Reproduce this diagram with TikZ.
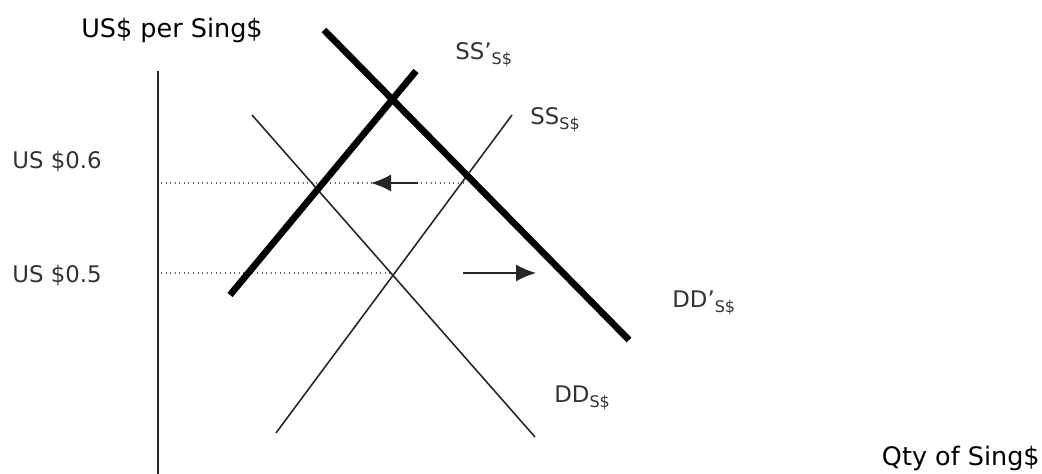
\documentclass[tikz,border=0pt]{standalone}
\usepackage{fontspec}
\setmainfont{DejaVu Sans}
\usetikzlibrary{arrows.meta}

\begin{document}
\begin{tikzpicture}[axislbl/.style={font=\fontsize{14.5}{17}\selectfont,inner sep=0pt},
  ticklbl/.style={font=\fontsize{13}{15}\selectfont,anchor=west,inner sep=0pt,text=black!80},
  curvelbl/.style={font=\fontsize{13}{15}\selectfont,anchor=west,inner sep=0pt,text=black!80},
  thinline/.style={black!85,line width=.9pt},
  thickline/.style={black,line width=3.8pt},
  guide/.style={black!60,dotted,line width=.6pt},
  shiftarrow/.style={black!85,line width=1pt,-{Latex[length=4mm,width=3.4mm]}}]
\useasboundingbox (0,0) rectangle (20.84,9.48);
\coordinate (axtop) at (3.16,8.06);
\coordinate (axbot) at (3.16,0);
\draw[black!85,line width=1pt] (axbot) -- (axtop);
\node[axislbl] (ytitle) at (3.44,8.88) {US\$ per Sing\$};
\node[axislbl,anchor=east] (xtitle) at (20.8,.32) {Qty of Sing\$};
\node[ticklbl] (p6) at (.24,6.24) {US \$0.6};
\node[ticklbl] (p5) at (.24,3.96) {US \$0.5};
\coordinate (g6a) at (3.22,5.82);
\coordinate (g6b) at (9.26,5.82);
\coordinate (g5a) at (3.22,4.02);
\coordinate (g5b) at (7.86,4.02);
\draw[guide] (g6a) -- (g6b);
\draw[guide] (g5a) -- (g5b);
\coordinate (dda) at (5.04,7.18);
\coordinate (ddb) at (10.7,.74);
\draw[thinline] (dda) -- (ddb);
\coordinate (ssa) at (5.52,.82);
\coordinate (ssb) at (10.24,7.18);
\draw[thinline] (ssa) -- (ssb);
\coordinate (ssna) at (4.6,3.58);
\coordinate (ssnb) at (8.32,8.06);
\draw[thickline] (ssna) -- (ssnb);
\coordinate (ddna) at (6.48,8.88);
\coordinate (ddnb) at (12.58,2.68);
\draw[thickline] (ddna) -- (ddnb);
\coordinate (la) at (8.36,5.82);
\coordinate (lb) at (7.42,5.82);
\draw[shiftarrow] (la) -- (lb);
\coordinate (ra) at (9.26,4.02);
\coordinate (rb) at (10.72,4.02);
\draw[shiftarrow] (ra) -- (rb);
\node[curvelbl] (ssnlbl) at (9.1,8.38) {SS{'}\textsubscript{S\$}};
\node[curvelbl] (sslbl) at (10.6,7.08) {SS\textsubscript{S\$}};
\node[curvelbl] (ddnlbl) at (13.44,3.42) {DD{'}\textsubscript{S\$}};
\node[curvelbl] (ddlbl) at (11.08,1.52) {DD\textsubscript{S\$}};
\end{tikzpicture}
\end{document}
